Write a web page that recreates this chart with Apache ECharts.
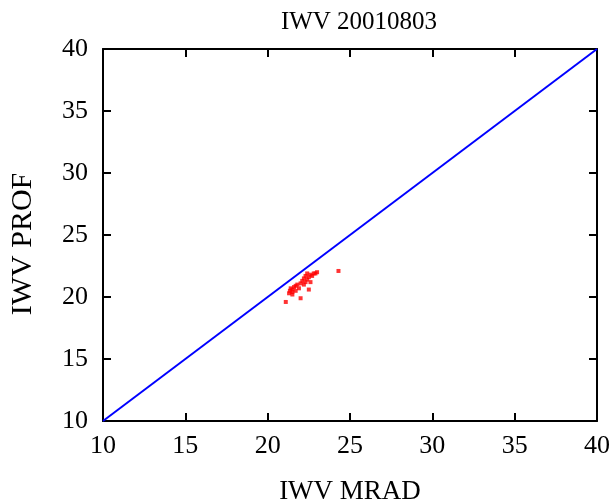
<!DOCTYPE html>
<html><head><meta charset="utf-8">
<script src="https://cdn.jsdelivr.net/npm/echarts@6/dist/echarts.min.js"></script>
<style>html,body{margin:0;padding:0;background:#fff}#c{width:614px;height:504px}</style>
</head><body><div id="c"></div>
<script>
const titleText = "IWV 20010803";
const xName = "IWV MRAD";
const yName = "IWV PROF";
const lineX = [10, 40];
const lineY = [10, 40];
const mradValues = [21.1,21.3,21.35,21.4,21.5,21.5,21.6,21.7,21.7,21.8,21.9,22.0,22.0,22.1,22.2,22.2,22.3,22.3,22.4,22.5,22.5,22.6,22.6,22.7,22.8,22.9,23.0,24.3,22.4,21.5];
const profValues = [19.6,20.3,20.5,20.7,20.4,20.6,20.8,20.5,20.9,21.0,20.7,19.9,21.1,21.3,21.0,21.5,21.2,21.7,21.4,20.6,21.6,21.2,21.8,21.7,21.9,21.9,22.0,22.1,21.9,20.2];

const font = "'Liberation Serif','Times New Roman',serif";
const chart = echarts.init(document.getElementById('c'), null, {renderer:'canvas'});
const axBase = {
  min:10, max:40, interval:5,
  axisLine:{show:true, lineStyle:{color:'#000', width:2}},
  axisTick:{show:true, inside:true, length:8, lineStyle:{color:'#000', width:2}},
  splitLine:{show:false}
};
chart.setOption({
  animation:false,
  title:{text:titleText, left:354, top:5, textAlign:'center',
    textStyle:{fontFamily:font, fontWeight:'normal', fontSize:25, color:'#000'}},
  grid:{left:103, right:17, top:49, bottom:83, containLabel:false, outerBoundsMode:'none'},
  xAxis:[
    Object.assign({type:'value', position:'bottom', name:xName, nameLocation:'middle', nameGap:57,
      nameTextStyle:{fontFamily:font, fontSize:27, color:'#000'},
      axisLabel:{fontFamily:font, fontSize:26, color:'#000', margin:12}}, axBase),
    Object.assign({type:'value', position:'top', axisLabel:{show:false}}, axBase)
  ],
  yAxis:[
    Object.assign({type:'value', position:'left', name:yName, nameLocation:'middle', nameGap:65,
      nameTextStyle:{fontFamily:font, fontSize:30, color:'#000', padding:[0,18,0,0]},
      axisLabel:{fontFamily:font, fontSize:26, color:'#000', margin:15}}, axBase),
    Object.assign({type:'value', position:'right', axisLabel:{show:false}}, axBase)
  ],
  series:[
    {type:'line', data:lineX.map((x,i)=>[x,lineY[i]]), symbol:'none',
      lineStyle:{color:'#0000ff', width:2}, silent:true},
    {type:'scatter', data:mradValues.map((x,i)=>[x,profValues[i]]), symbol:'rect', symbolSize:4,
      itemStyle:{color:'#ff0000'}}
  ]
});
</script></body></html>
